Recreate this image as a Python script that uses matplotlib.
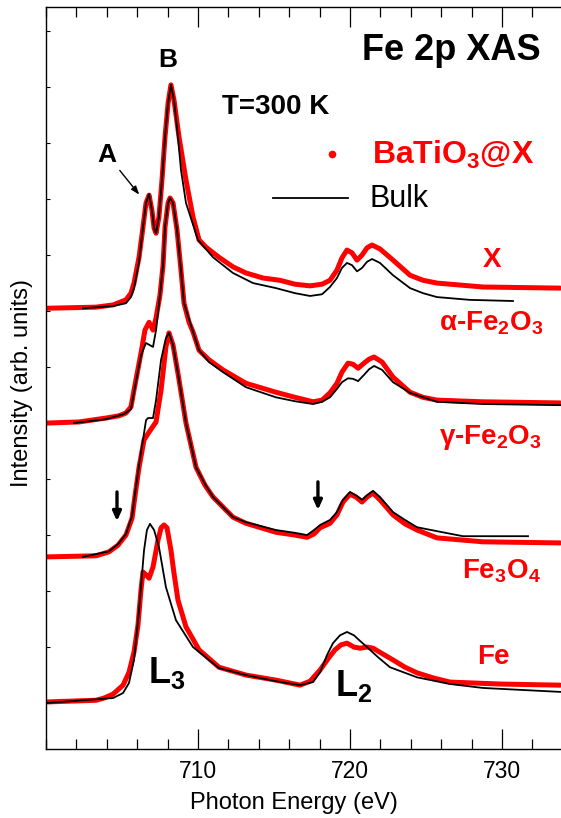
import matplotlib
matplotlib.use("Agg")
import matplotlib.pyplot as plt
from matplotlib.ticker import MultipleLocator, FixedLocator

plt.rcParams['font.family'] = ['Liberation Sans', 'DejaVu Sans']
plt.rcParams['mathtext.fontset'] = 'custom'
plt.rcParams['mathtext.rm'] = 'Liberation Sans:bold'
plt.rcParams['mathtext.default'] = 'rm'

RED = '#ff0000'

# alpha-Fe2O3 (top pair)
alpha_bto_e = [700.00, 703.29, 704.41, 705.26, 705.59, 705.79, 706.12, 706.38, 706.58, 706.78,
               706.97, 707.11, 707.24, 707.43, 707.63, 707.83, 708.03, 708.22, 708.42, 708.75,
               709.21, 709.67, 710.07, 710.53, 711.38, 712.30, 713.16, 714.28, 715.39, 716.38,
               717.37, 718.16, 718.68, 719.14, 719.47, 719.80, 720.13, 720.46, 720.79, 721.12,
               721.45, 721.97, 722.83, 723.95, 724.80, 725.72, 728.75, 733.82]
alpha_bto_i = [7.05, 7.07, 7.11, 7.20, 7.32, 7.50, 7.96, 8.50, 8.93, 9.07,
               8.80, 8.48, 8.39, 8.68, 9.34, 10.11, 10.71, 11.04, 10.77, 10.11,
               9.34, 8.68, 8.27, 8.14, 7.96, 7.79, 7.68, 7.59, 7.55, 7.48,
               7.45, 7.48, 7.55, 7.73, 7.95, 8.09, 8.04, 7.91, 8.00, 8.13,
               8.18, 8.11, 7.91, 7.64, 7.55, 7.50, 7.43, 7.41]
alpha_bulk_e = [702.43, 704.41, 705.26, 705.59, 705.79, 706.12, 706.38, 706.58, 706.78, 706.97,
                707.11, 707.24, 707.43, 707.63, 707.83, 708.03, 708.22, 708.42, 708.68, 708.88,
                709.21, 710.00, 710.99, 712.30, 713.62, 715.13, 716.38, 717.37, 718.16, 718.68,
                719.14, 719.47, 719.80, 720.13, 720.46, 720.79, 721.12, 721.45, 721.97, 722.83,
                723.95, 724.80, 725.72, 727.89, 730.72]
alpha_bulk_i = [7.05, 7.09, 7.14, 7.25, 7.41, 7.88, 8.50, 8.93, 9.09, 8.80,
                8.48, 8.39, 8.68, 9.34, 10.11, 10.71, 11.04, 10.77, 10.11, 9.52,
                8.93, 8.27, 7.96, 7.68, 7.50, 7.41, 7.32, 7.27, 7.30, 7.43,
                7.59, 7.77, 7.86, 7.82, 7.71, 7.77, 7.88, 7.93, 7.86, 7.64,
                7.41, 7.32, 7.25, 7.20, 7.18]

# gamma-Fe2O3
gamma_bto_e = [700.00, 702.17, 703.95, 704.80, 705.26, 705.59, 705.79, 706.25, 706.51, 706.78,
               707.04, 707.24, 707.50, 707.70, 707.83, 708.03, 708.16, 708.36, 708.62, 708.88,
               709.08, 709.41, 709.67, 710.07, 710.72, 711.64, 713.16, 715.13, 716.38, 717.57,
               718.16, 718.68, 719.14, 719.47, 719.87, 720.20, 720.53, 720.92, 721.25, 721.58,
               722.11, 722.83, 723.95, 724.80, 725.72, 728.75, 733.82]
gamma_bto_i = [5.00, 5.02, 5.09, 5.13, 5.18, 5.29, 5.59, 6.25, 6.66, 6.80,
               6.66, 6.88, 7.29, 7.82, 8.50, 8.93, 9.02, 8.93, 8.45, 7.73,
               7.14, 6.80, 6.63, 6.30, 6.13, 5.95, 5.71, 5.55, 5.46, 5.38,
               5.41, 5.54, 5.71, 5.91, 6.07, 6.05, 5.98, 6.07, 6.14, 6.18,
               6.09, 5.82, 5.55, 5.46, 5.41, 5.38, 5.36]
gamma_bulk_e = [701.84, 703.95, 705.13, 705.59, 705.79, 706.25, 706.58, 706.84, 707.04, 707.24,
                707.50, 707.70, 707.83, 708.03, 708.16, 708.36, 708.62, 708.88, 709.08, 709.67,
                710.07, 710.72, 711.64, 713.16, 715.13, 716.38, 717.57, 718.16, 718.68, 719.14,
                719.47, 719.87, 720.20, 720.53, 720.92, 721.25, 721.58, 722.11, 722.83, 723.95,
                725.72, 728.75, 733.82]
gamma_bulk_i = [5.00, 5.07, 5.16, 5.25, 5.55, 6.21, 6.43, 6.39, 6.36, 6.66,
                7.29, 7.82, 8.50, 8.93, 9.02, 8.93, 8.45, 7.73, 7.14, 6.63,
                6.30, 6.09, 5.91, 5.64, 5.46, 5.39, 5.34, 5.38, 5.46, 5.61,
                5.73, 5.80, 5.79, 5.75, 5.86, 5.96, 6.02, 5.95, 5.73, 5.54,
                5.38, 5.34, 5.32]

# Fe3O4
fe3o4_bto_e = [700.00, 703.29, 704.14, 704.74, 705.26, 705.66, 705.86, 706.12, 706.45, 706.78,
               707.24, 707.57, 707.89, 708.09, 708.36, 708.68, 709.21, 709.87, 710.46, 710.99,
               712.30, 713.16, 715.13, 716.38, 717.17, 717.63, 718.03, 718.68, 719.14, 719.54,
               720.00, 720.39, 720.79, 721.12, 721.51, 721.97, 722.83, 723.62, 724.41, 725.72,
               728.75, 733.82]
fe3o4_bto_i = [2.61, 2.63, 2.70, 2.82, 3.00, 3.30, 3.71, 4.21, 4.70, 4.84,
               5.02, 5.59, 6.36, 6.61, 6.39, 5.89, 5.00, 4.21, 3.89, 3.68,
               3.32, 3.21, 3.05, 3.00, 2.96, 3.02, 3.13, 3.21, 3.36, 3.59,
               3.73, 3.68, 3.59, 3.68, 3.75, 3.63, 3.36, 3.20, 3.09, 2.95,
               2.88, 2.86]
fe3o4_bulk_e = [702.43, 704.14, 704.74, 705.26, 705.66, 705.86, 706.12, 706.58, 706.71, 707.04,
                707.24, 707.57, 707.89, 708.09, 708.36, 708.68, 709.21, 709.87, 710.46, 710.99,
                712.30, 713.16, 715.13, 716.38, 717.17, 717.63, 718.03, 718.68, 719.14, 719.54,
                720.00, 720.39, 720.79, 721.12, 721.51, 721.97, 722.83, 723.62, 724.41, 725.72,
                727.43, 731.71]
fe3o4_bulk_i = [2.61, 2.71, 2.84, 3.02, 3.34, 3.75, 4.25, 5.05, 5.09, 5.09,
                5.41, 6.13, 6.52, 6.61, 6.39, 5.89, 5.00, 4.21, 3.91, 3.68,
                3.32, 3.23, 3.09, 3.04, 3.00, 3.09, 3.18, 3.27, 3.41, 3.63,
                3.77, 3.71, 3.63, 3.71, 3.79, 3.68, 3.41, 3.27, 3.14, 3.07,
                2.98, 2.98]

# Fe metal
fe_bto_e = [700.00, 703.29, 703.82, 704.41, 705.07, 705.46, 705.79, 706.05, 706.25, 706.38,
            706.58, 706.78, 707.04, 707.37, 707.57, 707.76, 707.96, 708.22, 708.42, 708.68,
            709.21, 710.07, 711.38, 713.16, 715.13, 716.71, 717.37, 718.03, 718.55, 719.01,
            719.41, 719.80, 720.26, 720.66, 721.12, 721.51, 722.17, 722.83, 723.62, 724.41,
            725.46, 726.58, 729.87, 733.82]
fe_bto_i = [0.02, 0.05, 0.09, 0.16, 0.32, 0.55, 0.91, 1.39, 2.02, 2.34,
            2.29, 2.23, 2.43, 2.91, 3.13, 3.18, 3.13, 2.73, 2.32, 1.84,
            1.36, 0.95, 0.64, 0.50, 0.41, 0.32, 0.39, 0.59, 0.79, 0.95,
            1.04, 1.07, 1.00, 0.98, 1.00, 0.98, 0.875, 0.77, 0.64, 0.54,
            0.45, 0.375, 0.34, 0.32]
fe_bulk_e = [700.00, 704.41, 705.07, 705.46, 705.79, 706.12, 706.45, 706.64, 706.84, 707.11,
             707.43, 707.89, 708.55, 709.67, 711.38, 713.16, 715.13, 716.71, 717.57, 718.03,
             718.49, 718.88, 719.34, 719.80, 720.26, 720.66, 721.12, 721.84, 722.63, 724.41,
             726.58, 728.75, 733.82]
fe_bulk_i = [0.00, 0.09, 0.18, 0.36, 0.77, 1.66, 2.73, 3.09, 3.20, 3.09,
             2.79, 2.07, 1.48, 1.00, 0.625, 0.50, 0.39, 0.32, 0.375, 0.55,
             0.86, 1.07, 1.21, 1.27, 1.21, 1.11, 1.00, 0.82, 0.64, 0.46,
             0.34, 0.27, 0.20]

curves = [
    (alpha_bto_e, alpha_bto_i, alpha_bulk_e, alpha_bulk_i),
    (gamma_bto_e, gamma_bto_i, gamma_bulk_e, gamma_bulk_i),
    (fe3o4_bto_e, fe3o4_bto_i, fe3o4_bulk_e, fe3o4_bulk_i),
    (fe_bto_e, fe_bto_i, fe_bulk_e, fe_bulk_i),
]

fig = plt.figure(figsize=(5.61, 8.18), dpi=100)
ax = fig.add_axes([46 / 561, 69 / 818, 515 / 561, 742 / 818])

for be, bi, ke, ki in curves:
    ax.plot(be, bi, color=RED, lw=3.6, solid_capstyle='round', solid_joinstyle='round', zorder=2)
    ax.plot(ke, ki, color='k', lw=1.3, zorder=3)

ax.set_xlim(700, 733.88)
ax.set_ylim(-0.82, 12.43)
ax.xaxis.set_major_locator(FixedLocator([710, 720, 730]))
ax.xaxis.set_minor_locator(MultipleLocator(2))
ax.set_yticks(range(13))
ax.set_yticklabels([])
ax.tick_params(axis='x', which='major', direction='in', top=True, length=14.5, width=0.9,
               labelsize=16.5, pad=8)
ax.tick_params(axis='x', which='minor', direction='in', top=True, length=7.2, width=0.9)
ax.tick_params(axis='y', which='major', direction='in', length=3, width=0.8)
ax.spines['right'].set_visible(False)
for s in ['left', 'top', 'bottom']:
    ax.spines[s].set_linewidth(1.0)

fig.text(294 / 561, 15 / 818, "Photon Energy (eV)", ha='center', va='center', fontsize=17)
fig.text(22 / 561, (818 - 383) / 818, "Intensity (arb. units)", ha='center', va='center',
         rotation=90, fontsize=17)

# annotations
ax.text(726.64, 11.66, "Fe 2p XAS", ha='center', va='center', fontsize=26, fontweight='bold')
ax.text(708.03, 11.48, "B", ha='center', va='center', fontsize=19, fontweight='bold')
ax.text(704.01, 9.79, "A", ha='center', va='center', fontsize=19, fontweight='bold')
ax.text(711.6, 10.64, "T=300 K", ha='left', va='center', fontsize=20, fontweight='bold')
ax.annotate("", xy=(706.25, 9.04), xytext=(704.74, 9.55),
            arrowprops=dict(arrowstyle='-|>,head_length=0.5,head_width=0.18', lw=1.0, color='k'))
ax.annotate("", xy=(704.67, 3.2), xytext=(704.67, 3.82),
            arrowprops=dict(arrowstyle='-|>,head_length=0.55,head_width=0.25', lw=2.4, color='k'))
ax.annotate("", xy=(717.89, 3.40), xytext=(717.89, 4.00),
            arrowprops=dict(arrowstyle='-|>,head_length=0.55,head_width=0.25', lw=2.4, color='k'))

# legend drawn by hand
ax.plot([718.82], [9.80], 'o', color=RED, ms=4.5)
ax.text(721.45, 9.79, "BaTiO$_3$@X", ha='left', va='center', fontsize=23,
        fontweight='bold', color=RED)
ax.plot([714.93, 719.87], [9.02, 9.02], color='k', lw=1.3)
ax.text(721.25, 9.0, "Bulk", ha='left', va='center', fontsize=22)

# sample labels
ax.text(729.34, 7.91, "X", ha='center', va='center', fontsize=20, fontweight='bold', color=RED)
ax.text(725.86, 6.79, "\u03b1-Fe$_2$O$_3$", ha='left', va='center', fontsize=20,
        fontweight='bold', color=RED)
ax.text(725.86, 4.75, "\u03b3-Fe$_2$O$_3$", ha='left', va='center', fontsize=20,
        fontweight='bold', color=RED)
ax.text(727.37, 2.36, "Fe$_3$O$_4$", ha='left', va='center', fontsize=20,
        fontweight='bold', color=RED)
ax.text(728.36, 0.82, "Fe", ha='left', va='center', fontsize=20, fontweight='bold', color=RED)
ax.text(706.71, 0.54, "L$_3$", ha='left', va='center', fontsize=26, fontweight='bold')
ax.text(719.01, 0.30, "L$_2$", ha='left', va='center', fontsize=26, fontweight='bold')

fig.savefig("out.png", dpi=100)
